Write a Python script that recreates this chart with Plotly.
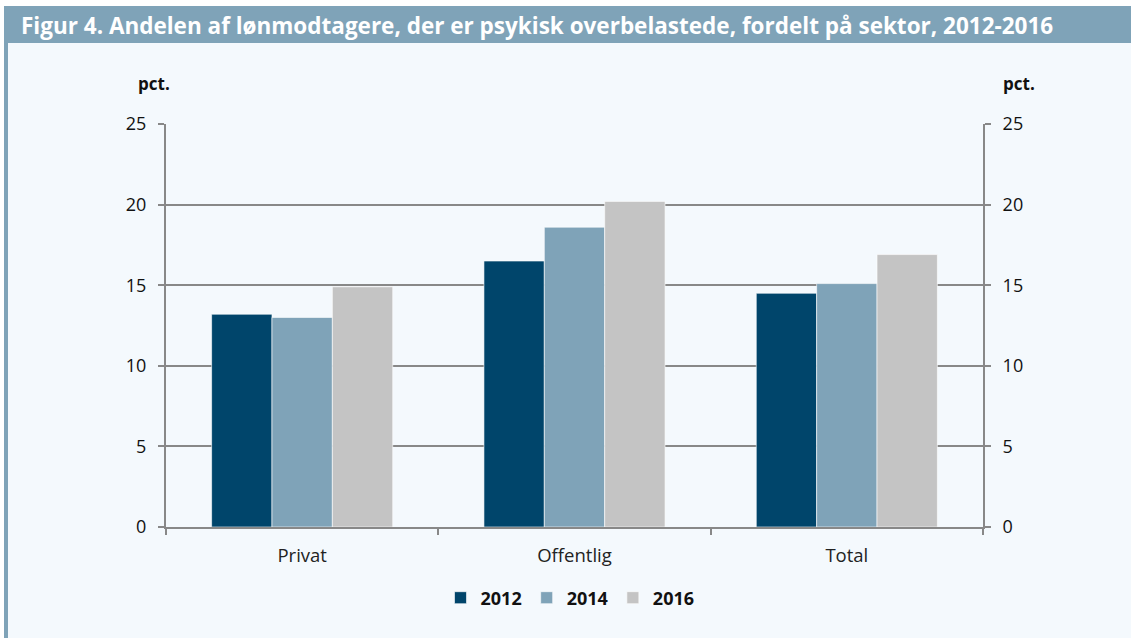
import plotly.graph_objects as go

categories = ["Privat", "Offentlig", "Total"]
years = ["2012", "2014", "2016"]
values_2012 = [13.2, 16.5, 14.5]
values_2014 = [13.0, 18.6, 15.1]
values_2016 = [14.9, 20.2, 16.9]
y_ticks = [0, 5, 10, 15, 20, 25]
title_text = "Figur 4. Andelen af lønmodtagere, der er psykisk overbelastede, fordelt på sektor, 2012-2016"

colors = ["#00456b", "#7fa3b8", "#c4c4c4"]
W, H = 1131, 638
L, R, T, B = 166, 983, 124, 527
FONT = "Open Sans"

def px(x):
    return (x - L) / (R - L)

def py(y):
    return (B - y) / (B - T)

fig = go.Figure()
for name, vals, col in zip(years, [values_2012, values_2014, values_2016], colors):
    fig.add_trace(go.Bar(x=categories, y=vals, name=name, marker_color=col,
                         marker_line_color="rgba(255,255,255,0.6)", marker_line_width=1))

fig.add_trace(go.Scatter(x=categories, y=values_2012, yaxis="y2", mode="markers",
                         marker_opacity=0, showlegend=False, hoverinfo="skip"))

panel = "#f4f9fd"
shapes = [
    dict(type="rect", xref="paper", yref="paper", x0=px(4), x1=px(W), y0=py(H), y1=py(43),
         fillcolor=panel, line_width=0, layer="below"),
    dict(type="rect", xref="paper", yref="paper", x0=px(4), x1=px(W), y0=py(43), y1=py(6),
         fillcolor="#7fa3b8", line_width=0, layer="below"),
    dict(type="rect", xref="paper", yref="paper", x0=px(4), x1=px(8), y0=py(H), y1=py(43),
         fillcolor="#7fa3b8", line_width=0, layer="below"),
]

annotations = [
    dict(text="<b>" + title_text + "</b>", xref="paper", yref="paper", x=px(19), y=py(26),
         xanchor="left", yanchor="middle", showarrow=False,
         font=dict(family=FONT, size=22.5, color="white")),
    dict(text="<b>pct.</b>", xref="paper", yref="paper", x=px(154), y=py(84),
         xanchor="center", yanchor="middle", showarrow=False,
         font=dict(family=FONT, size=17, color="#111")),
    dict(text="<b>pct.</b>", xref="paper", yref="paper", x=px(1019), y=py(84),
         xanchor="center", yanchor="middle", showarrow=False,
         font=dict(family=FONT, size=17, color="#111")),
]

grid = "#888888"
fig.update_layout(
    width=W, height=H,
    margin=dict(l=L, r=W - R, t=T, b=H - B),
    paper_bgcolor="white", plot_bgcolor=panel,
    barmode="group", bargap=0.335, bargroupgap=0,
    font=dict(family=FONT, size=17, color="#111"),
    shapes=shapes, annotations=annotations,
    showlegend=True,
    legend=dict(orientation="h", x=px(570), xanchor="center", y=py(598), yanchor="middle",
                font=dict(family=FONT, size=18, color="#111", weight="bold"),
                bgcolor="rgba(0,0,0,0)", itemwidth=30, tracegroupgap=0),
    xaxis=dict(showline=True, linecolor=grid, linewidth=2, ticks="outside", tickson="boundaries",
               ticklen=6, tickcolor=grid, tickwidth=2, showgrid=False, ticklabelstandoff=11,
               tickfont=dict(family=FONT, size=18.5, color="#222")),
    yaxis=dict(range=[0, 25], tickvals=y_ticks, showgrid=True, gridcolor=grid, gridwidth=2,
               showline=True, linecolor=grid, linewidth=2, ticks="outside", ticklen=6,
               tickcolor=grid, tickwidth=2, zeroline=False, ticklabelstandoff=8,
               tickfont=dict(family=FONT, size=18, color="#111")),
    yaxis2=dict(range=[0, 25], tickvals=y_ticks, overlaying="y", side="right", showgrid=False,
                showline=True, linecolor=grid, linewidth=2, ticks="outside", ticklen=6,
                tickcolor=grid, tickwidth=2, zeroline=False, ticklabelstandoff=8,
                tickfont=dict(family=FONT, size=18, color="#111")),
)

fig.write_html("out.html", config={"displayModeBar": False},
               post_script="document.body.style.margin='0';")
